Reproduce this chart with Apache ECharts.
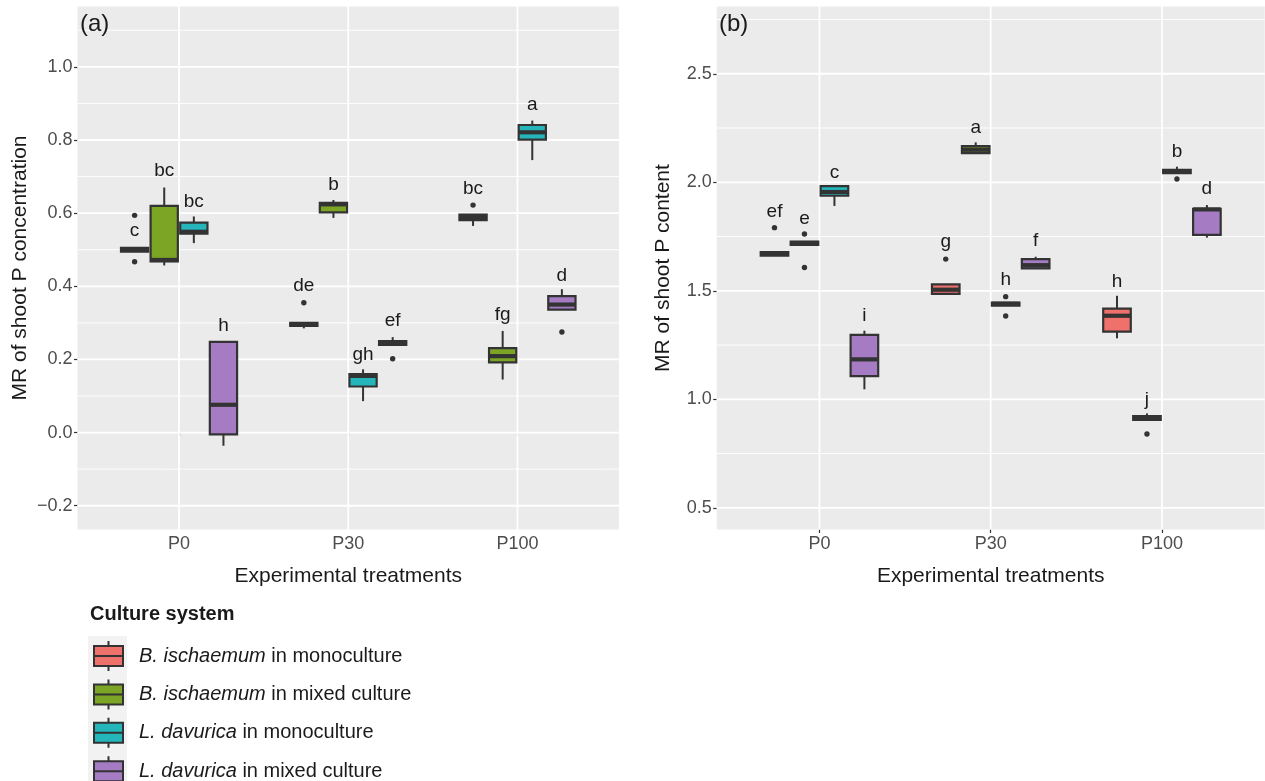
<!DOCTYPE html>
<html><head><meta charset="utf-8">
<script src="https://cdn.jsdelivr.net/npm/echarts@6/dist/echarts.min.js"></script>
<style>html,body{margin:0;padding:0;background:#fff}#c{width:1265px;height:781px}</style>
</head><body><div id="c"></div>
<script>
const categories = ['P0', 'P30', 'P100'];
const groupNames = ['B. ischaemum in monoculture', 'B. ischaemum in mixed culture', 'L. davurica in monoculture', 'L. davurica in mixed culture'];
const groupColors = ['#EF716C', '#7CA526', '#24B6BA', '#A57CC3'];

// Panel (a) MR of shoot P concentration: [lower whisker, Q1, median, Q3, upper whisker] per treatment
const concBiMono  = [[0.495, 0.495, 0.500, 0.505, 0.505], [0.285, 0.292, 0.296, 0.300, 0.300], [0.565, 0.581, 0.589, 0.596, 0.596]];
const concBiMixed = [[0.457, 0.468, 0.472, 0.620, 0.670], [0.587, 0.602, 0.624, 0.628, 0.636], [0.145, 0.192, 0.209, 0.231, 0.278]];
const concLdMono  = [[0.518, 0.544, 0.549, 0.574, 0.591], [0.086, 0.126, 0.155, 0.160, 0.173], [0.745, 0.801, 0.821, 0.841, 0.853]];
const concLdMixed = [[-0.036, -0.005, 0.076, 0.248, 0.248], [0.240, 0.240, 0.245, 0.250, 0.261], [0.336, 0.336, 0.350, 0.373, 0.392]];
const concBiMonoOut  = [[0.594, 0.467], [0.355], [0.622]];
const concBiMixedOut = [[], [], []];
const concLdMonoOut  = [[], [], []];
const concLdMixedOut = [[], [0.202], [0.275]];
const concBiMonoLetters  = ['c', 'de', 'bc'];
const concBiMixedLetters = ['bc', 'b', 'fg'];
const concLdMonoLetters  = ['bc', 'gh', 'a'];
const concLdMixedLetters = ['h', 'ef', 'd'];
const concBiMonoLetterY  = [0.551, 0.401, 0.668];
const concBiMixedLetterY = [0.715, 0.677, 0.323];
const concLdMonoLetterY  = [0.631, 0.214, 0.896];
const concLdMixedLetterY = [0.291, 0.307, 0.430];
const concTicks = [-0.2, 0.0, 0.2, 0.4, 0.6, 0.8, 1.0];
const concMinor = [-0.1, 0.1, 0.3, 0.5, 0.7, 0.9, 1.1];

// Panel (b) MR of shoot P content
const contBiMono  = [[1.662, 1.662, 1.670, 1.678, 1.678], [1.486, 1.486, 1.505, 1.530, 1.530], [1.281, 1.312, 1.385, 1.418, 1.477]];
const contBiMixed = [[1.712, 1.712, 1.720, 1.727, 1.727], [2.134, 2.134, 2.150, 2.167, 2.184], [0.905, 0.905, 0.912, 0.922, 0.935]];
const contLdMono  = [[1.891, 1.938, 1.955, 1.982, 1.982], [1.432, 1.432, 1.440, 1.446, 1.446], [2.042, 2.042, 2.050, 2.057, 2.072]];
const contLdMixed = [[1.046, 1.107, 1.184, 1.297, 1.316], [1.603, 1.603, 1.618, 1.646, 1.657], [1.745, 1.758, 1.875, 1.878, 1.895]];
const contBiMonoOut  = [[1.791], [1.646], []];
const contBiMixedOut = [[1.762, 1.607], [], [0.840]];
const contLdMonoOut  = [[], [1.473, 1.384], [2.015]];
const contLdMixedOut = [[], [], []];
const contBiMonoLetters  = ['ef', 'g', 'h'];
const contBiMixedLetters = ['e', 'a', 'j'];
const contLdMonoLetters  = ['c', 'h', 'b'];
const contLdMixedLetters = ['i', 'f', 'd'];
const contBiMonoLetterY  = [1.865, 1.726, 1.542];
const contBiMixedLetterY = [1.834, 2.252, 1.000];
const contLdMonoLetterY  = [2.046, 1.550, 2.141];
const contLdMixedLetterY = [1.384, 1.729, 1.968];
const contTicks = [0.5, 1.0, 1.5, 2.0, 2.5];
const contMinor = [0.75, 1.25, 1.75, 2.25, 2.75];

const FONT = '"Liberation Sans", Arial, Helvetica, sans-serif';
const DARK = '#333333';
const SLOT = 0.175;                       // dodge slot width (category units)
const DODGE = [-1.5, -0.5, 0.5, 1.5];     // slot multiples

const panels = [
  { stats: [concBiMono, concBiMixed, concLdMono, concLdMixed],
    outs: [concBiMonoOut, concBiMixedOut, concLdMonoOut, concLdMixedOut],
    letters: [concBiMonoLetters, concBiMixedLetters, concLdMonoLetters, concLdMixedLetters],
    letterY: [concBiMonoLetterY, concBiMixedLetterY, concLdMonoLetterY, concLdMixedLetterY],
    ticks: concTicks, minor: concMinor },
  { stats: [contBiMono, contBiMixed, contLdMono, contLdMixed],
    outs: [contBiMonoOut, contBiMixedOut, contLdMonoOut, contLdMixedOut],
    letters: [contBiMonoLetters, contBiMixedLetters, contLdMonoLetters, contLdMixedLetters],
    letterY: [contBiMonoLetterY, contBiMixedLetterY, contLdMonoLetterY, contLdMixedLetterY],
    ticks: contTicks, minor: contMinor }
];

function boxRender(stats, outs, letters, letterY, gi) {
  return function (params, api) {
    const i = params.dataIndex;
    const s = stats[i];
    const xc = i + 1 + DODGE[gi] * SLOT;
    const bw = api.size([SLOT, 0])[0] * 0.92;
    const pLow = api.coord([xc, s[0]]), pQ1 = api.coord([xc, s[1]]), pMed = api.coord([xc, s[2]]);
    const pQ3 = api.coord([xc, s[3]]), pHigh = api.coord([xc, s[4]]);
    const x = pQ1[0];
    const ch = [];
    ch.push({ type: 'line', shape: { x1: x, y1: pLow[1], x2: x, y2: pQ1[1] }, style: { stroke: DARK, lineWidth: 2 } });
    ch.push({ type: 'line', shape: { x1: x, y1: pQ3[1], x2: x, y2: pHigh[1] }, style: { stroke: DARK, lineWidth: 2 } });
    ch.push({ type: 'rect', shape: { x: x - bw / 2, y: pQ3[1], width: bw, height: pQ1[1] - pQ3[1] },
              style: { fill: groupColors[gi], stroke: DARK, lineWidth: 2.2 } });
    ch.push({ type: 'line', shape: { x1: x - bw / 2, y1: pMed[1], x2: x + bw / 2, y2: pMed[1] }, style: { stroke: DARK, lineWidth: 4.2 } });
    outs[i].forEach(function (v) {
      const p = api.coord([xc, v]);
      ch.push({ type: 'circle', shape: { cx: p[0], cy: p[1], r: 2.7 }, style: { fill: DARK } });
    });
    const lp = api.coord([xc, letterY[i]]);
    ch.push({ type: 'text', x: lp[0], y: lp[1], style: { text: letters[i], fill: '#1A1A1A', font: '19px ' + FONT, align: 'center', verticalAlign: 'middle' } });
    return { type: 'group', children: ch };
  };
}

function gridRender(kind, w) {
  return function (params, api) {
    const cs = params.coordSys;
    const p = api.coord([api.value(0), api.value(1)]);
    if (kind === 'h') {
      return { type: 'line', shape: { x1: cs.x, y1: p[1], x2: cs.x + cs.width, y2: p[1] }, style: { stroke: '#FFFFFF', lineWidth: w }, silent: true };
    }
    return { type: 'line', shape: { x1: p[0], y1: cs.y, x2: p[0], y2: cs.y + cs.height }, style: { stroke: '#FFFFFF', lineWidth: w }, silent: true };
  };
}

const series = [];
panels.forEach(function (pn, k) {
  series.push({ type: 'custom', name: 'minor' + k, xAxisIndex: k, yAxisIndex: k, z: 1, silent: true,
    data: pn.minor.map(function (v) { return [2, v]; }), encode: { x: 0, y: 1 }, renderItem: gridRender('h', 0.9) });
  series.push({ type: 'custom', name: 'major' + k, xAxisIndex: k, yAxisIndex: k, z: 1, silent: true,
    data: pn.ticks.map(function (v) { return [2, v]; }), encode: { x: 0, y: 1 }, renderItem: gridRender('h', 1.8) });
  series.push({ type: 'custom', name: 'vmajor' + k, xAxisIndex: k, yAxisIndex: k, z: 1, silent: true,
    data: categories.map(function (c, i) { return [i + 1, pn.ticks[0]]; }), encode: { x: 0, y: 1 }, renderItem: gridRender('v', 1.8) });
});
panels.forEach(function (pn, k) {
  groupNames.forEach(function (g, gi) {
    series.push({ type: 'custom', name: g, xAxisIndex: k, yAxisIndex: k, z: 3,
      itemStyle: { color: groupColors[gi] },
      data: categories.map(function (c, i) { return [i + 1, pn.stats[gi][i][0], pn.stats[gi][i][4]]; }),
      encode: { x: 0, y: [1, 2] },
      renderItem: boxRender(pn.stats[gi], pn.outs[gi], pn.letters[gi], pn.letterY[gi], gi) });
  });
});

function xAxisCfg(k) {
  return { type: 'value', gridIndex: k, min: 0.4, max: 3.6,
    name: 'Experimental treatments', nameLocation: 'middle', nameGap: 36,
    nameTextStyle: { fontSize: 21, color: '#1A1A1A', fontFamily: FONT },
    axisLine: { show: false }, splitLine: { show: false },
    axisTick: { show: true, customValues: [1, 2, 3], length: 3.5, lineStyle: { color: DARK, width: 1.2 } },
    axisLabel: { customValues: [1, 2, 3], margin: 6, fontSize: 18, color: '#4D4D4D', fontFamily: FONT,
      formatter: function (v) { return categories[Math.round(v) - 1]; } } };
}
function yAxisCfg(k, name, min, max, gap) {
  return { type: 'value', gridIndex: k, min: min, max: max,
    name: name, nameLocation: 'middle', nameGap: gap,
    nameTextStyle: { fontSize: 21, color: '#1A1A1A', fontFamily: FONT },
    axisLine: { show: false }, splitLine: { show: false },
    axisTick: { show: true, customValues: panels[k].ticks, length: 3.5, lineStyle: { color: DARK, width: 1.2 } },
    axisLabel: { customValues: panels[k].ticks, margin: 5, fontSize: 18, color: '#4D4D4D', fontFamily: FONT,
      formatter: function (v) { return (v < 0 ? '\u2212' : '') + Math.abs(v).toFixed(1); } } };
}

const option = {
  animation: false,
  backgroundColor: '#FFFFFF',
  title: [
    { text: 'Culture system', left: 90, top: 604, padding: 0, textStyle: { fontSize: 20, fontWeight: 'bold', color: '#1A1A1A', fontFamily: FONT } },
    { text: '(a)', left: 80, top: 12, padding: 0, textStyle: { fontSize: 24, fontWeight: 'normal', color: '#1A1A1A', fontFamily: FONT } },
    { text: '(b)', left: 719, top: 12, padding: 0, textStyle: { fontSize: 24, fontWeight: 'normal', color: '#1A1A1A', fontFamily: FONT } }
  ],
  graphic: [{ type: 'rect', left: 88, top: 636, shape: { width: 39, height: 151 }, style: { fill: '#F2F2F2' }, z: 0 }],
  legend: {
    data: groupNames, orient: 'vertical', left: 93, top: 640, padding: 0, height: 200, width: 500,
    itemWidth: 29, itemHeight: 30, itemGap: 6.4, selectedMode: false,
    icon: 'path://M14.5,0 L14.5,5 M0,5 L29,5 L29,25 L0,25 Z M0,15 L29,15 M14.5,25 L14.5,30',
    itemStyle: { borderColor: DARK, borderWidth: 2 },
    formatter: function (name) {
      const parts = name.split(' ');
      return '{i|' + parts[0] + ' ' + parts[1] + '} ' + parts.slice(2).join(' ');
    },
    textStyle: { fontSize: 20, color: '#1A1A1A', fontFamily: FONT, padding: [0, 0, 0, 11],
      rich: { i: { fontSize: 20, fontStyle: 'italic', color: '#1A1A1A', fontFamily: FONT } } }
  },
  grid: [
    { left: 77.5, top: 6.5, width: 541.5, height: 523, show: true, backgroundColor: '#EBEBEB', borderWidth: 0, containLabel: false, outerBoundsMode: 'none' },
    { left: 716.7, top: 6.5, width: 548, height: 523, show: true, backgroundColor: '#EBEBEB', borderWidth: 0, containLabel: false, outerBoundsMode: 'none' }
  ],
  xAxis: [xAxisCfg(0), xAxisCfg(1)],
  yAxis: [yAxisCfg(0, 'MR of shoot P concentration', -0.265, 1.165, 47), yAxisCfg(1, 'MR of shoot P content', 0.40, 2.81, 43)],
  series: series
};

const chart = echarts.init(document.getElementById('c'), null, { renderer: 'canvas' });
chart.setOption(option);
</script>
</body></html>
